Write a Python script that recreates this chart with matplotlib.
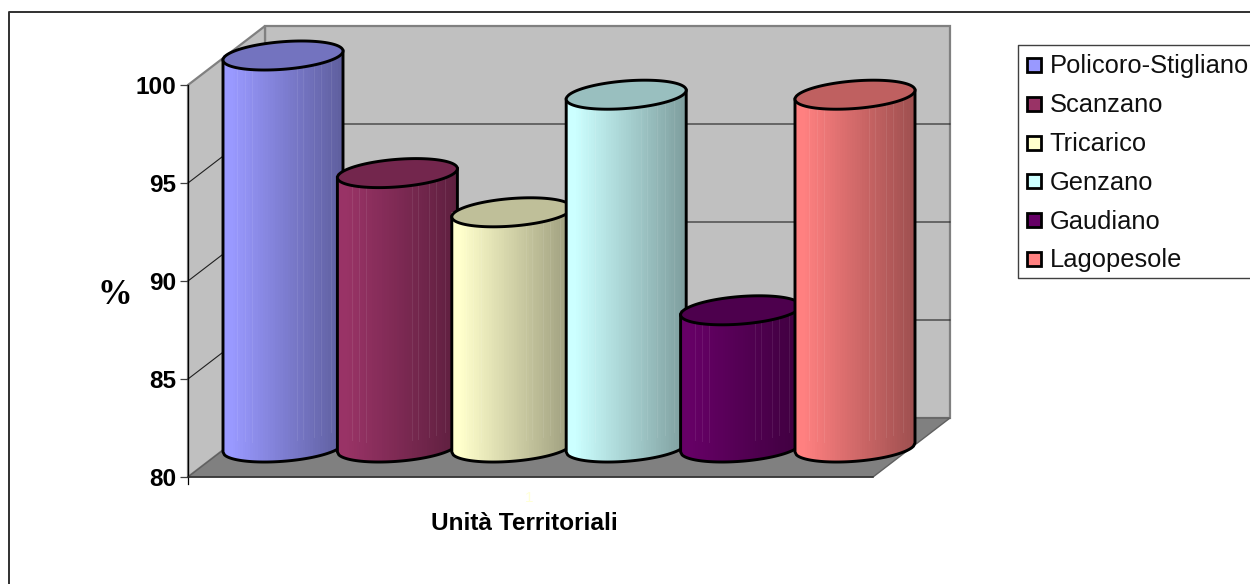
import numpy as np
import matplotlib
matplotlib.use("Agg")
import matplotlib.pyplot as plt

plt.rcParams['font.family'] = ['Liberation Sans', 'DejaVu Sans']

# %%

names = ["Policoro-Stigliano", "Scanzano", "Tricarico", "Genzano", "Gaudiano", "Lagopesole"]
values = [100, 94, 92, 98, 87, 98]
colors = ["#9999FF", "#993366", "#FFFFCC", "#CCFFFF", "#660066", "#FF8080"]
yticks = [80, 85, 90, 95, 100]

W, H = 1250, 584
px_per_unit = 19.6
y80 = 477  # pixel row of value 80 on the front plane


def val(py):
    return 80 + (y80 - py) / px_per_unit


def shade(c, f):
    return np.array(matplotlib.colors.to_rgb(c)) * f


# %%

fig = plt.figure(figsize=(W / 100, H / 100), dpi=100)
ax = fig.add_axes([0, 0, 1, 1])
ax.set_xlim(0, W)
ax.set_ylim(val(H), val(0))
ax.patch.set_visible(False)

# box depth, 77 px across and 3 units up
dx, dv = 77, 59 / px_per_unit
x0, x1 = 188, 873

# walls and floor
ax.fill([x0 + dx, x1 + dx, x1 + dx, x0 + dx], [80 + dv, 80 + dv, 100 + dv, 100 + dv],
        fc="#C0C0C0", ec="#808080", lw=1.6, zorder=1)
ax.fill([x0, x0 + dx, x0 + dx, x0], [80, 80 + dv, 100 + dv, 100],
        fc="#C0C0C0", ec="#808080", lw=1.6, zorder=1)
ax.fill([x0, x0 + dx, x1 + dx, x1], [80, 80 + dv, 80 + dv, 80],
        fc="#808080", ec="#606060", lw=1, zorder=1.1)

# gridlines on the left and back walls
for t in yticks[1:-1]:
    ax.plot([x0, x0 + dx, x1 + dx], [t, t + dv, t + dv], color="#202020", lw=0.8, zorder=1.2)

# y axis
ax.spines[["top", "right"]].set_visible(False)
ax.spines["left"].set_position(("data", x0))
ax.spines["left"].set_bounds(80 - 7 / px_per_unit, 100)
ax.spines["left"].set_linewidth(0.9)
ax.spines["bottom"].set_position(("data", 80))
ax.spines["bottom"].set_bounds(x0, x1)
ax.spines["bottom"].set_color("#303030")
ax.spines["bottom"].set_linewidth(1.1)
ax.set_xticks([])
ax.set_yticks(yticks)
ax.tick_params(axis="y", length=5.8, width=0.9, color="#404040", pad=2.5)
for lab in ax.get_yticklabels():
    lab.set_fontsize(17.6)
    lab.set_fontweight("bold")
    lab.set_verticalalignment("center_baseline")

# %%

# cylinders, left to right so each one covers the last
a = 60.0
b = 13.8 / px_per_unit
k = 0.075 / px_per_unit
base_v = 80 + 29.5 / px_per_unit
first_cx, step_cx = 283, 114.4
line_pos = [0.12, 0.18, 0.24, 0.62, 0.67, 0.76, 0.82, 0.9]

for i, (v, c) in enumerate(zip(values, colors)):
    cx = first_cx + i * step_cx
    top_v = v + 29.5 / px_per_unit
    z = 3 + i
    t = np.linspace(0, 2 * np.pi, 121)
    ex = a * np.cos(t)
    es = b * np.sin(t) + k * ex

    # body in vertical strips, light on the left and dark on the right
    edges = np.linspace(-a, a, 49)
    for j in range(len(edges) - 1):
        l_, r_ = edges[j], edges[j + 1]
        f = 1 - 0.38 * max(0, (j - 3)) / (len(edges) - 5)
        xs = np.linspace(l_, min(r_ + 1.2, a), 5)
        low = base_v + k * xs - b * np.sqrt(np.maximum(1 - (xs / a) ** 2, 0))
        ax.fill(np.r_[cx + xs, cx + xs[::-1]], np.r_[low, np.full(5, top_v)],
                fc=shade(c, f), lw=0, zorder=z)

    # pale rulings on the surface
    for p in line_pos:
        lx = -a + 2 * a * p
        low = base_v + k * lx - b * np.sqrt(1 - (lx / a) ** 2)
        ax.plot([cx + lx, cx + lx], [low + 20 / px_per_unit, top_v], color="white", alpha=0.08, lw=0.8, zorder=z)

    # outline of the body
    xs = np.linspace(-a, a, 81)
    low = base_v + k * xs - b * np.sqrt(np.maximum(1 - (xs / a) ** 2, 0))
    ax.plot(np.r_[cx - a, cx + xs, cx + a], np.r_[top_v - k * a, low, top_v + k * a],
            color="black", lw=2.1, solid_joinstyle="round", zorder=z)

    # top cap
    ax.fill(cx + ex, top_v + es, fc=shade(c, 0.75), ec="black", lw=2.1, zorder=z + 0.1)

# %%

# outer frame runs off the right and bottom of the canvas
ax.plot([9, 9, W + 5], [val(H + 5), val(12), val(12)], color="#303030", lw=1.4, zorder=1, clip_on=False)

ax.text(115, val(295), "%", fontsize=25, fontweight="bold", family=["Liberation Serif"], ha="center", va="center")
ax.text(524.5, val(523.5), "Unità Territoriali", fontsize=17.6, fontweight="bold", ha="center", va="center")
ax.text(529, val(498), "1", fontsize=11, color="#FFFFD8", ha="center", va="center")

# legend
ax.plot([W + 5, 1017.5, 1017.5, W + 5], [val(45), val(45), val(278), val(278)], color="#404040", lw=1.0, zorder=1)
for i, (n, c) in enumerate(zip(names, colors)):
    py = 65 + i * 38.8
    ax.fill([1027, 1041, 1041, 1027], [val(py - 7), val(py - 7), val(py + 7), val(py + 7)],
            fc=c, ec="black", lw=2.0, zorder=2)
    ax.text(1049.5, val(py + 1.5), n, fontsize=18.4, ha="left", va="center", color="#101010")

fig.savefig("out.png", dpi=100)
